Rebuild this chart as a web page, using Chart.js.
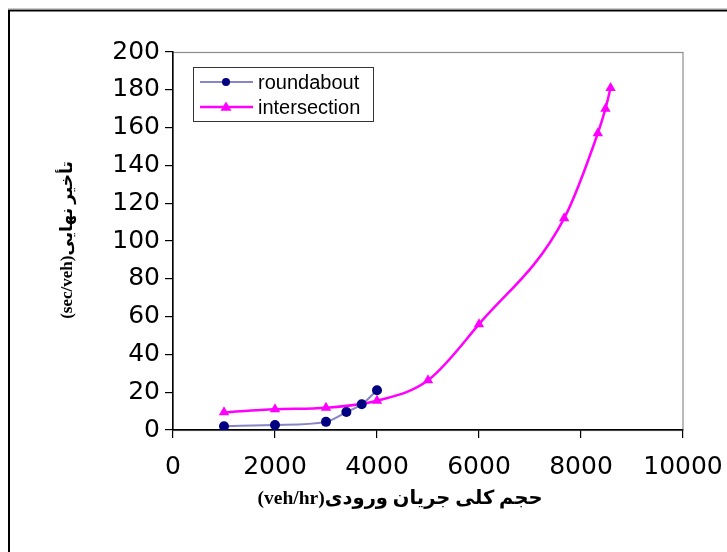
<!DOCTYPE html>
<html><head><meta charset="utf-8">
<script src="https://cdn.jsdelivr.net/npm/chart.js@4"></script>
<style>html,body{margin:0;padding:0;background:#fff}#wrap{width:727px;height:552px;position:relative}</style>
</head><body><div id="wrap"><canvas id="c" width="727" height="552"></canvas></div>
<script>
const roundaboutX = [1000, 2000, 3000, 3400, 3700, 4000];
const roundaboutY = [2.0, 2.6, 4.3, 9.5, 13.6, 21];
const intersectionX = [1000, 2000, 3000, 4000, 5000, 6000, 7670, 8330, 8480, 8580];
const intersectionY = [9.4, 11, 11.8, 15.5, 26.3, 56, 112, 157, 170, 181];
const seriesNames = ['roundabout', 'intersection'];
const xTicks = [0, 2000, 4000, 6000, 8000, 10000];
const yTicks = [0, 20, 40, 60, 80, 100, 120, 140, 160, 180, 200];
const xTitle = '(veh/hr)حجم کلی جریان ورودی';
const yTitle = '(sec/veh)تأخیر نهایی';

const toPts = (xs, ys) => xs.map((x, i) => ({x: x, y: ys[i]}));
const tickFont = {family: '"DejaVu Sans", sans-serif', size: 25};

const decor = {
  id: 'decor',
  beforeDraw(chart) {
    const ctx = chart.ctx, a = chart.chartArea;
    ctx.save();
    ctx.strokeStyle = '#000'; ctx.lineWidth = 2;
    ctx.beginPath(); ctx.moveTo(9, 560); ctx.lineTo(9, 10.5); ctx.lineTo(740, 10.5); ctx.stroke();
    ctx.strokeStyle = '#999'; ctx.lineWidth = 1;
    ctx.beginPath(); ctx.moveTo(8, 9); ctx.lineTo(740, 9); ctx.stroke();
    ctx.strokeStyle = '#8c8c8c'; ctx.lineWidth = 1.2;
    ctx.strokeRect(a.left, a.top + 0.5, a.right - a.left, a.bottom - a.top);
    ctx.restore();
  },
  afterDraw(chart) {
    const ctx = chart.ctx;
    ctx.save();
    ctx.fillStyle = '#000';
    ctx.direction = 'ltr';
    ctx.font = 'bold 19.5px "Liberation Serif", "DejaVu Sans", serif';
    ctx.textAlign = 'center'; ctx.textBaseline = 'middle';
    ctx.fillText(xTitle, 400, 499);
    ctx.translate(68, 240); ctx.rotate(-Math.PI / 2);
    ctx.font = 'bold 17px "Liberation Serif", "DejaVu Sans", serif';
    ctx.fillText(yTitle, 0, 0);
    ctx.restore();

    ctx.save();
    const bx = 193.5, by = 67.5, bw = 180, bh = 54;
    ctx.fillStyle = '#fff'; ctx.fillRect(bx, by, bw, bh);
    ctx.strokeStyle = '#333'; ctx.lineWidth = 1; ctx.strokeRect(bx, by, bw, bh);
    ctx.font = '20px "Liberation Sans", Arial, sans-serif';
    ctx.textAlign = 'left'; ctx.textBaseline = 'middle';
    chart.data.datasets.forEach((ds, i) => {
      const y = 82 + i * 25;
      ctx.strokeStyle = ds.borderColor; ctx.lineWidth = ds.borderWidth;
      ctx.beginPath(); ctx.moveTo(200, y); ctx.lineTo(253, y); ctx.stroke();
      ctx.fillStyle = ds.pointBackgroundColor;
      ctx.beginPath();
      if (ds.pointStyle === 'triangle') {
        const r = 5.5;
        ctx.moveTo(226, y - r); ctx.lineTo(226 + r, y + r * 0.7); ctx.lineTo(226 - r, y + r * 0.7); ctx.closePath();
      } else {
        ctx.arc(226, y, 4, 0, Math.PI * 2);
      }
      ctx.fill();
      ctx.fillStyle = '#000';
      ctx.fillText(ds.label, 258, y + 1);
    });
    ctx.restore();
  }
};

new Chart(document.getElementById('c'), {
  type: 'line',
  data: {
    datasets: [
      {
        label: seriesNames[0], data: toPts(roundaboutX, roundaboutY),
        borderColor: '#8585c8', borderWidth: 2, cubicInterpolationMode: 'monotone',
        pointStyle: 'circle', pointRadius: 5, pointBackgroundColor: '#000080', pointBorderColor: '#000080', pointBorderWidth: 0
      },
      {
        label: seriesNames[1], data: toPts(intersectionX, intersectionY),
        borderColor: '#ff00ff', borderWidth: 2.5, cubicInterpolationMode: 'monotone',
        pointStyle: 'triangle', pointRadius: 6, pointBackgroundColor: '#ff00ff', pointBorderColor: '#ff00ff', pointBorderWidth: 0
      }
    ]
  },
  options: {
    responsive: false, animation: false, devicePixelRatio: 1,
    layout: {padding: {left: 0, top: 52, right: 44, bottom: 0}},
    plugins: {legend: {display: false}, tooltip: {enabled: false}},
    scales: {
      x: {
        type: 'linear', min: 0, max: 10000,
        afterBuildTicks: s => { s.ticks = xTicks.map(v => ({value: v})); },
        afterFit: s => { s.height = 122; s.paddingLeft = 0; s.paddingRight = 0; },
        grid: {display: true, drawOnChartArea: false, drawTicks: true, tickLength: 8, color: '#000', lineWidth: 1.2},
        border: {display: true, color: '#000', width: 1.5},
        ticks: {font: tickFont, color: '#000', padding: 14, maxRotation: 0, autoSkip: false, callback: v => String(v)}
      },
      y: {
        type: 'linear', min: 0, max: 200,
        afterBuildTicks: s => { s.ticks = yTicks.map(v => ({value: v})); },
        afterFit: s => { s.width = 173; s.paddingTop = 0; s.paddingBottom = 0; },
        grid: {display: true, drawOnChartArea: false, drawTicks: true, tickLength: 8, color: '#000', lineWidth: 1.2},
        border: {display: true, color: '#000', width: 1.5},
        ticks: {font: tickFont, color: '#000', padding: 5, autoSkip: false, callback: v => String(v)}
      }
    }
  },
  plugins: [decor]
});
</script>
</body></html>
